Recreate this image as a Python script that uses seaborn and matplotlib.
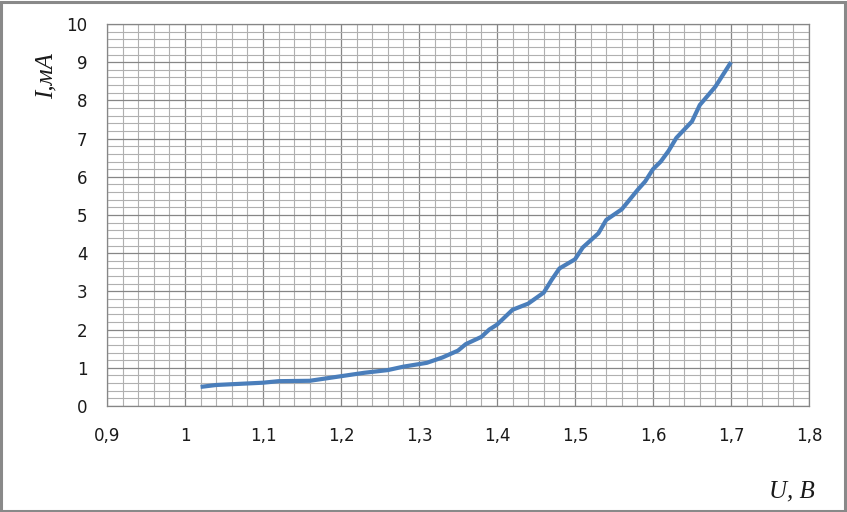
import matplotlib
matplotlib.use('Agg')
import matplotlib.pyplot as plt
import matplotlib.ticker as ticker
from matplotlib.patches import Rectangle
import pandas as pd
import seaborn as sns

# values (U in volts, I in mA)
U = [1.02, 1.04, 1.07, 1.10, 1.12, 1.16, 1.20, 1.23, 1.26, 1.28, 1.31, 1.33,
     1.35, 1.36, 1.38, 1.39, 1.40, 1.42, 1.44, 1.46, 1.47, 1.48, 1.50, 1.51,
     1.53, 1.54, 1.56, 1.58, 1.59, 1.60, 1.61, 1.62, 1.63, 1.65, 1.66, 1.68, 1.70]
I = [0.50, 0.55, 0.58, 0.61, 0.65, 0.66, 0.78, 0.87, 0.94, 1.03, 1.13, 1.27,
     1.45, 1.62, 1.81, 2.00, 2.13, 2.52, 2.68, 2.97, 3.30, 3.60, 3.84, 4.15,
     4.52, 4.87, 5.15, 5.65, 5.88, 6.20, 6.40, 6.68, 7.02, 7.45, 7.88, 8.36, 9.00]

x_ticks = [0.9, 1.0, 1.1, 1.2, 1.3, 1.4, 1.5, 1.6, 1.7, 1.8]
x_labels = ['0,9', '1', '1,1', '1,2', '1,3', '1,4', '1,5', '1,6', '1,7', '1,8']
y_ticks = list(range(0, 11))

Data = pd.DataFrame({'U': U, 'I': I})

sns.set_theme(style='white')
plt.rcParams['font.family'] = ['DejaVu Sans']

fig = plt.figure(figsize=(8.47, 5.12), dpi=100)
ax = fig.add_axes([107/847, 106/512, 702/847, 382/512])

ax.set_xlim(0.9, 1.8)
ax.set_ylim(0, 10)
ax.xaxis.set_major_locator(ticker.FixedLocator(x_ticks))
ax.xaxis.set_minor_locator(ticker.MultipleLocator(0.02))
ax.yaxis.set_major_locator(ticker.FixedLocator(y_ticks))
ax.yaxis.set_minor_locator(ticker.MultipleLocator(0.2))
ax.set_xticklabels(x_labels)

ax.grid(which='minor', color='#b0b0b0', linewidth=0.8)
ax.grid(which='major', color='#868686', linewidth=0.9)
ax.set_axisbelow(True)

sns.lineplot(data=Data, x='U', y='I', sort=False, color='#4a7ebb',
             linewidth=3, ax=ax, solid_capstyle='butt', solid_joinstyle='round')

for s in ax.spines.values():
    s.set_color('#868686')
    s.set_linewidth(0.9)

ax.tick_params(axis='both', which='both', length=0, labelsize=12,
               labelcolor='#1a1a1a')
ax.tick_params(axis='x', pad=15)
ax.tick_params(axis='y', pad=14)
ax.set_xlabel('')
ax.set_ylabel('')

fig.text(47/847, 1 - 76/512, 'I,мА', rotation=90, ha='center', va='center',
         fontsize=18, family='Liberation Serif', style='italic', color='#1a1a1a')
fig.text(815/847, 15/512, 'U, B', ha='right', va='baseline',
         fontsize=18, family='Liberation Serif', style='italic', color='#1a1a1a')

# outer chart border
fig.patches.append(Rectangle((0.001, 0.002), 0.997, 0.995, transform=fig.transFigure,
                             fill=False, edgecolor='#898989', linewidth=2.2))

fig.savefig('out.png', dpi=100)
